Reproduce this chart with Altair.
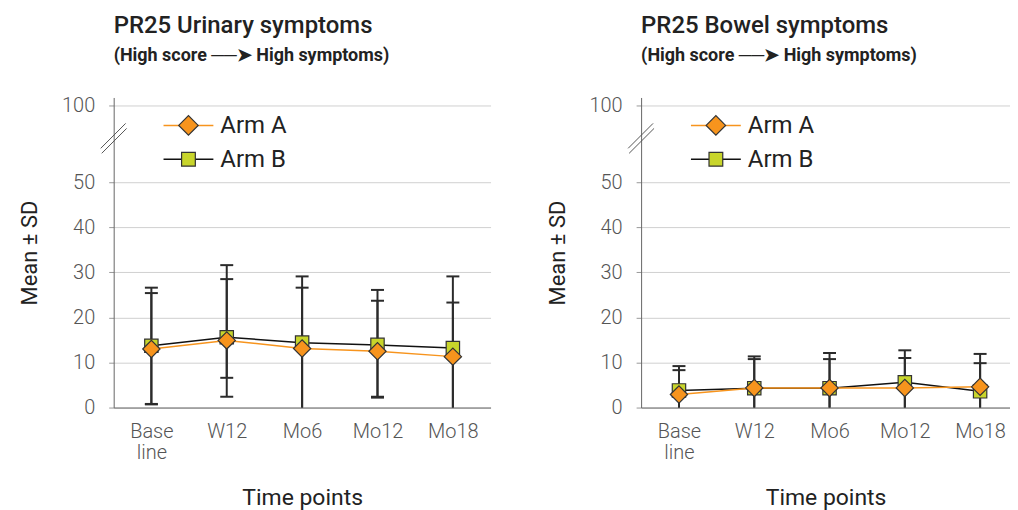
import json
import altair as alt
import pandas as pd

timepoints = ["Base line", "W12", "Mo6", "Mo12", "Mo18"]
arms = ["Arm A", "Arm B"]

# PR25 Urinary symptoms
uri_a_mean = [13.0, 14.9, 13.1, 12.5, 11.3]
uri_a_upper = [25.4, 28.5, 26.6, 23.7, 23.3]
uri_a_lower = [0.7, 2.4, 0.0, 2.4, 0.0]
uri_b_mean = [13.7, 15.6, 14.4, 13.9, 13.2]
uri_b_upper = [26.6, 31.6, 29.1, 26.1, 29.1]
uri_b_lower = [0.8, 6.6, 0.0, 2.2, 0.0]

# PR25 Bowel symptoms
bow_a_mean = [2.9, 4.35, 4.35, 4.35, 4.6]
bow_a_upper = [8.3, 10.75, 10.75, 11.0, 11.9]
bow_a_lower = [0.0, 0.0, 0.0, 0.0, 0.0]
bow_b_mean = [3.8, 4.3, 4.3, 5.6, 3.6]
bow_b_upper = [9.2, 11.35, 12.1, 12.7, 9.85]
bow_b_lower = [0.0, 0.0, 0.0, 0.0, 0.0]

y_ticks = [0, 10, 20, 30, 40, 50, 67]  # 67 stands for the broken-axis "100"
y_top = 68.8

ORANGE = "#F7941D"
GREEN = "#C8D52B"
DARK = "#2b2b2b"
FONT = "Roboto"

label_expr = "split(" + json.dumps(timepoints).replace('"', "'") + "[datum.value], ' ')"


def make_df(a_mean, a_up, a_lo, b_mean, b_up, b_lo):
    rows = []
    for arm, m, u, l in [("Arm A", a_mean, a_up, a_lo), ("Arm B", b_mean, b_up, b_lo)]:
        for i, (t, mv, uv, lv) in enumerate(zip(timepoints, m, u, l)):
            rows.append({"idx": i, "time": t, "arm": arm, "mean": mv, "upper": uv, "lower": lv})
    return pd.DataFrame(rows)


def panel(df, title, width, x_domain):
    x_scale = alt.Scale(domain=x_domain, nice=False, zero=False)
    y_scale = alt.Scale(domain=[0, y_top], nice=False, zero=True)
    x_enc = alt.X(
        "idx:Q", scale=x_scale,
        axis=alt.Axis(
            title="Time points", values=list(range(len(timepoints))),
            domain=True, domainColor="#666", ticks=False, grid=False,
            labelAngle=0, labelFontSize=20, labelColor="#555", labelFont=FONT,
            labelFontWeight=300, labelPadding=14, labelLineHeight=21,
            labelExpr=label_expr, labelFlush=False, labelOverlap=False,
            titleFontSize=23, titleFont=FONT, titleFontWeight=400, titleColor="#222",
            titlePadding=24,
        ),
    )
    y_axis = alt.Axis(
        title="Mean ± SD", values=y_ticks, grid=True, gridColor="#d0d0d0",
        domainColor="#666", tickColor="#999", tickSize=5,
        labelFontSize=20, labelColor="#555", labelFont=FONT, labelFontWeight=300,
        labelPadding=14,
        labelExpr="datum.value > 60 ? '100' : datum.label",
        titleFontSize=22, titleFont=FONT, titleFontWeight=400, titleColor="#222",
        titlePadding=20,
    )
    base = alt.Chart(df)
    a = base.transform_filter(alt.datum.arm == "Arm A")
    b = base.transform_filter(alt.datum.arm == "Arm B")

    err = base.mark_rule(color=DARK, strokeWidth=2).encode(
        x=x_enc, y=alt.Y("lower:Q", scale=y_scale, axis=y_axis), y2="upper:Q"
    )
    cap_hi = base.mark_rule(color=DARK, strokeWidth=2, xOffset=-6.5, x2Offset=6.5).encode(
        x="idx:Q", x2="idx", y="upper:Q"
    )
    cap_lo = base.mark_rule(color=DARK, strokeWidth=2, xOffset=-6.5, x2Offset=6.5).transform_filter(
        alt.datum.lower > 0
    ).encode(x="idx:Q", x2="idx", y="lower:Q")
    line_b = b.mark_line(color="#111", strokeWidth=1.5).encode(x="idx:Q", y="mean:Q")
    line_a = a.mark_line(color=ORANGE, strokeWidth=1.5).encode(x="idx:Q", y="mean:Q")
    pts_b = b.mark_point(shape="square", filled=True, fill=GREEN, stroke="#333",
                         strokeWidth=1.2, size=180, opacity=1).encode(x="idx:Q", y="mean:Q")
    pts_a = a.mark_point(shape="diamond", filled=True, fill=ORANGE, stroke="#333",
                         strokeWidth=1.2, size=300, opacity=1).encode(x="idx:Q", y="mean:Q")

    one = pd.DataFrame({"k": [0]})
    brk1 = alt.Chart(one).mark_rule(color="#555", strokeWidth=1).encode(
        x=alt.value(-13), x2=alt.value(12), y=alt.value(51), y2=alt.value(26)
    )
    brk2 = alt.Chart(one).mark_rule(color="#555", strokeWidth=1).encode(
        x=alt.value(-12), x2=alt.value(13), y=alt.value(56), y2=alt.value(31)
    )
    # legend (drawn inside the plot, top-left)
    leg = []
    for yy, col, shape, fill, size, label in [
        (28, ORANGE, "diamond", ORANGE, 380, "Arm A"),
        (62, "#111", "square", GREEN, 190, "Arm B"),
    ]:
        leg.append(alt.Chart(one).mark_rule(color=col, strokeWidth=1.5).encode(
            x=alt.value(50), x2=alt.value(100), y=alt.value(yy)))
        leg.append(alt.Chart(one).mark_point(shape=shape, filled=True, fill=fill,
                                             stroke="#333", strokeWidth=1.2, size=size,
                                             opacity=1).encode(
            x=alt.value(75), y=alt.value(yy)))
        leg.append(alt.Chart(one).mark_text(align="left", baseline="middle", fontSize=24,
                                            font=FONT, color="#222").encode(
            x=alt.value(107), y=alt.value(yy + 1), text=alt.value(label)))

    return alt.layer(
        err, cap_hi, cap_lo, line_b, line_a, pts_b, pts_a, brk1, brk2, *leg
    ).properties(
        width=width, height=311,
        title=alt.TitleParams(
            text=title, subtitle="(High score ──➤ High symptoms)",
            anchor="start", frame="group", font=FONT, fontSize=24, fontWeight=500,
            color="#222", subtitleFont=FONT, subtitleFontSize=18, subtitleFontWeight=700,
            subtitleColor="#222", subtitlePadding=9, offset=31,
        ),
    )


uri = make_df(uri_a_mean, uri_a_upper, uri_a_lower, uri_b_mean, uri_b_upper, uri_b_lower)
bow = make_df(bow_a_mean, bow_a_upper, bow_a_lower, bow_b_mean, bow_b_upper, bow_b_lower)

chart = alt.hconcat(
    panel(uri, "PR25 Urinary symptoms", 378, [-0.5, 4.5]),
    panel(bow, "PR25 Bowel symptoms", 370, [-0.503, 4.397]),
    spacing=55,
).resolve_scale(y="independent", x="independent").configure_view(stroke=None).properties(
    padding={"left": 10, "top": 5, "right": 0, "bottom": 0}
)

chart.save("out.html", embed_options={"renderer": "svg", "actions": False})
